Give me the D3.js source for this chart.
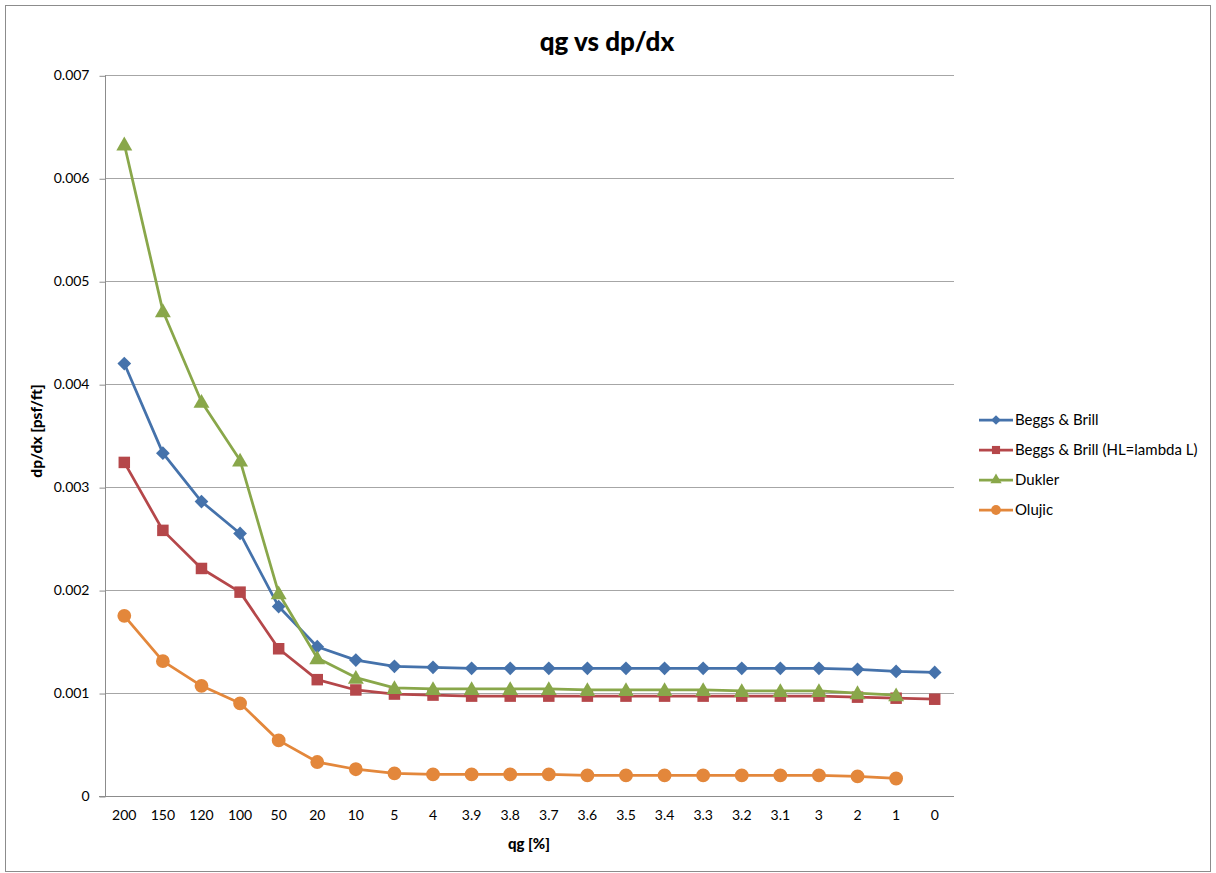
<!DOCTYPE html>
<html>
<head>
<meta charset="utf-8">
<script src="https://cdn.jsdelivr.net/npm/d3@7"></script>
<style>
  html, body { margin: 0; padding: 0; background: #fff; }
  svg { display: block; }
  text { font-family: Lato, "Open Sans", "Liberation Sans", sans-serif; fill: #000; }
</style>
</head>
<body>
<svg id="chart" width="1216" height="873"></svg>
<script>
const categories = ["200","150","120","100","50","20","10","5","4","3.9","3.8","3.7","3.6","3.5","3.4","3.3","3.2","3.1","3","2","1","0"];
const beggsBrill   = [0.00420,0.00333,0.00286,0.00255,0.00184,0.00145,0.00132,0.00126,0.00125,0.00124,0.00124,0.00124,0.00124,0.00124,0.00124,0.00124,0.00124,0.00124,0.00124,0.00123,0.00121,0.00120];
const beggsBrillHL = [0.00324,0.00258,0.00221,0.00198,0.00143,0.00113,0.00103,0.00099,0.00098,0.00097,0.00097,0.00097,0.00097,0.00097,0.00097,0.00097,0.00097,0.00097,0.00097,0.00096,0.00095,0.00094];
const dukler       = [0.00633,0.00471,0.00383,0.00326,0.00197,0.00134,0.00115,0.00105,0.00104,0.00104,0.00104,0.00104,0.00103,0.00103,0.00103,0.00103,0.00102,0.00102,0.00102,0.00100,0.00098,null];
const olujic       = [0.00175,0.00131,0.00107,0.00090,0.00054,0.00033,0.00026,0.00022,0.00021,0.00021,0.00021,0.00021,0.00020,0.00020,0.00020,0.00020,0.00020,0.00020,0.00020,0.00019,0.00017,null];
const yTicks = [0,0.001,0.002,0.003,0.004,0.005,0.006,0.007];
const yTickLabels = ["0","0.001","0.002","0.003","0.004","0.005","0.006","0.007"];
const seriesNames = ["Beggs & Brill","Beggs & Brill (HL=lambda L)","Dukler","Olujic"];
const seriesColors = ["#4572AB","#B5474A","#89A74A","#E3873B"];
const seriesSymbols = ["diamond","square","triangle","circle"];
const seriesValues = [beggsBrill, beggsBrillHL, dukler, olujic];

const svg = d3.select("#chart");
// outer border
svg.append("rect").attr("x",5.5).attr("y",5.5).attr("width",1205).attr("height",866)
  .attr("fill","#fff").attr("stroke","#8c8c8c").attr("stroke-width",1);

const plot = {left:105, right:954, top:75.3, bottom:796};
const x = d3.scaleBand().domain(categories).range([plot.left, plot.right]);
const y = d3.scaleLinear().domain([0,0.007]).range([plot.bottom, plot.top]);

// gridlines
svg.append("g").selectAll("line").data(yTicks.filter(d=>d>0)).join("line")
  .attr("x1",plot.left).attr("x2",plot.right)
  .attr("y1",d=>Math.round(y(d))+0.5).attr("y2",d=>Math.round(y(d))+0.5)
  .attr("stroke","#a6a6a6").attr("stroke-width",1);

// y axis
const yAxis = d3.axisLeft(y).tickValues(yTicks).tickSize(6).tickPadding(10)
  .tickFormat((d,i)=>yTickLabels[i]);
const gy = svg.append("g").attr("transform",`translate(${plot.left+0.5},0)`).call(yAxis);
gy.select(".domain").attr("stroke","#8c8c8c").attr("d",`M0,${plot.top}V${plot.bottom}`);
gy.selectAll(".tick line").attr("stroke","#8c8c8c").attr("transform","translate(0,0.5)");
gy.selectAll(".tick text").attr("font-size","14px").attr("fill","#1a1a1a")
  .style("font-family","Lato, 'Open Sans', sans-serif");

// x axis
const xAxis = d3.axisBottom(x).tickSize(0).tickPadding(14);
const gx = svg.append("g").attr("transform",`translate(0,${plot.bottom+0.5})`).call(xAxis);
gx.select(".domain").attr("stroke","#8c8c8c").attr("d",`M${plot.left-6},0H${plot.right}`);
gx.selectAll(".tick text").attr("font-size","14px").attr("fill","#1a1a1a")
  .style("font-family","Lato, 'Open Sans', sans-serif");

// title and axis titles
svg.append("text").attr("x",607).attr("y",51).attr("text-anchor","middle")
  .attr("font-size","26px").attr("font-weight","900").text("qg vs dp/dx");
svg.append("text").attr("x",529).attr("y",849).attr("text-anchor","middle")
  .attr("font-size","15px").attr("font-weight","900").text("qg [%]");
svg.append("text").attr("transform","translate(42,431) rotate(-90)").attr("text-anchor","middle")
  .attr("font-size","15.5px").attr("font-weight","900").text("dp/dx [psf/ft]");

const symbolTypes = {diamond:d3.symbolDiamond2, square:d3.symbolSquare, triangle:d3.symbolTriangle, circle:d3.symbolCircle};
const symbolSizes = {diamond:120, square:132, triangle:110, circle:150};
const cx = c => x(c) + x.bandwidth()/2;

const line = d3.line().defined(d=>d.v!=null).x(d=>cx(d.c)).y(d=>y(d.v));

seriesValues.forEach((vals, si) => {
  const pts = categories.map((c,i)=>({c, v: vals[i]}));
  const g = svg.append("g");
  g.append("path").datum(pts).attr("d", line).attr("fill","none")
    .attr("stroke", seriesColors[si]).attr("stroke-width",2.75).attr("stroke-linejoin","round");
  const sym = d3.symbol().type(symbolTypes[seriesSymbols[si]]).size(symbolSizes[seriesSymbols[si]]);
  g.selectAll("path.m").data(pts.filter(d=>d.v!=null)).join("path").attr("class","m")
    .attr("d", sym)
    .attr("transform", d=>`translate(${cx(d.c)},${y(d.v) + (seriesSymbols[si]==="triangle"?1.5:0)})`)
    .attr("fill", seriesColors[si]);
});

// legend
const legend = svg.append("g");
seriesNames.forEach((name, i) => {
  const ly = 420 + i*30;
  legend.append("line").attr("x1",979).attr("x2",1013).attr("y1",ly).attr("y2",ly)
    .attr("stroke",seriesColors[i]).attr("stroke-width",2.75);
  const sym = d3.symbol().type(symbolTypes[seriesSymbols[i]]).size(symbolSizes[seriesSymbols[i]]*0.5);
  legend.append("path").attr("d",sym).attr("transform",`translate(996,${ly})`).attr("fill",seriesColors[i]);
  legend.append("text").attr("x",1015).attr("y",ly+5).attr("font-size","15px").attr("fill","#1a1a1a").text(name);
});
</script>
</body>
</html>
